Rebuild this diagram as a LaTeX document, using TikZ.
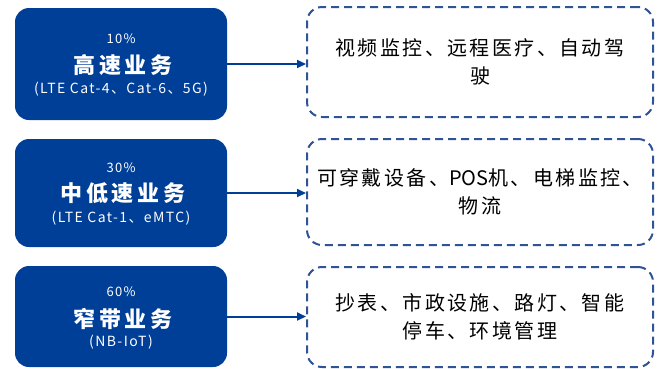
\documentclass[tikz,border=0pt]{standalone}
\usepackage{fontspec}
\usetikzlibrary{arrows.meta}
\newfontfamily\cjk{Noto Sans CJK SC}
\newfontfamily\cjkR[LetterSpace=12]{Noto Sans CJK SC}
\newfontfamily\cjkT[LetterSpace=16]{Noto Sans CJK SC}
\newfontfamily\cjkS[LetterSpace=10]{Noto Sans CJK SC}
\definecolor{bbox}{RGB}{0,63,151}
\definecolor{dline}{RGB}{47,84,150}
\begin{document}
\begin{tikzpicture}[x=1pt,y=-1pt,
  biz/.style={draw=none, fill=bbox, rounded corners=14pt, minimum width=212pt, inner sep=0pt},
  usecase/.style={draw=dline, line width=2pt, dash pattern=on 8pt off 5pt, rounded corners=15pt,
    minimum width=346pt, inner sep=0pt, align=center, text=black,
    font=\cjkR\fontsize{20}{28}\selectfont},
  pct/.style={text=white, font=\cjkS\fontsize{13}{14}\selectfont},
  ttl/.style={text=white, font=\cjkT\bfseries\fontsize{22}{24}\selectfont},
  subt/.style={text=white, font=\cjkS\fontsize{14}{15}\selectfont},
  link/.style={draw=bbox, line width=2pt, -{Triangle[length=9pt,width=8pt]}}]
\useasboundingbox (0,0) rectangle (660,368);

\node[biz, minimum height=112pt] (b1) at (121,64) {};
\node[biz, minimum height=108pt] (b2) at (121,193) {};
\node[biz, minimum height=101pt] (b3) at (121,316.5) {};

\node[pct] (p1) at (121,39) {10\%};
\node[ttl] (t1) at (123,65) {高速业务};
\node[subt] (s1) at (121,89) {(LTE Cat-4、Cat-6、5G)};

\node[pct] (p2) at (121,168) {30\%};
\node[ttl] (t2) at (123,193) {中低速业务};
\node[subt] (s2) at (121,218) {(LTE Cat-1、eMTC)};

\node[pct] (p3) at (121,292) {60\%};
\node[ttl] (t3) at (123,319) {窄带业务};
\node[subt] (s3) at (121,342) {(NB-IoT)};

\node[usecase, minimum height=110pt] (d1) at (480,62) {视频监控、远程医疗、自动驾\\驶};
\node[usecase, minimum height=106pt] (d2) at (480,192) {可穿戴设备、{\cjk POS}机、电梯监控、\\物流};
\node[usecase, minimum height=100pt] (d3) at (480,317) {抄表、市政设施、路灯、智能\\停车、环境管理};

\draw[link] (b1.east) -- (b1.east -| d1.west);
\draw[link] (b2.east) -- (b2.east -| d2.west);
\draw[link] (b3.east) -- (b3.east -| d3.west);
\end{tikzpicture}
\end{document}
